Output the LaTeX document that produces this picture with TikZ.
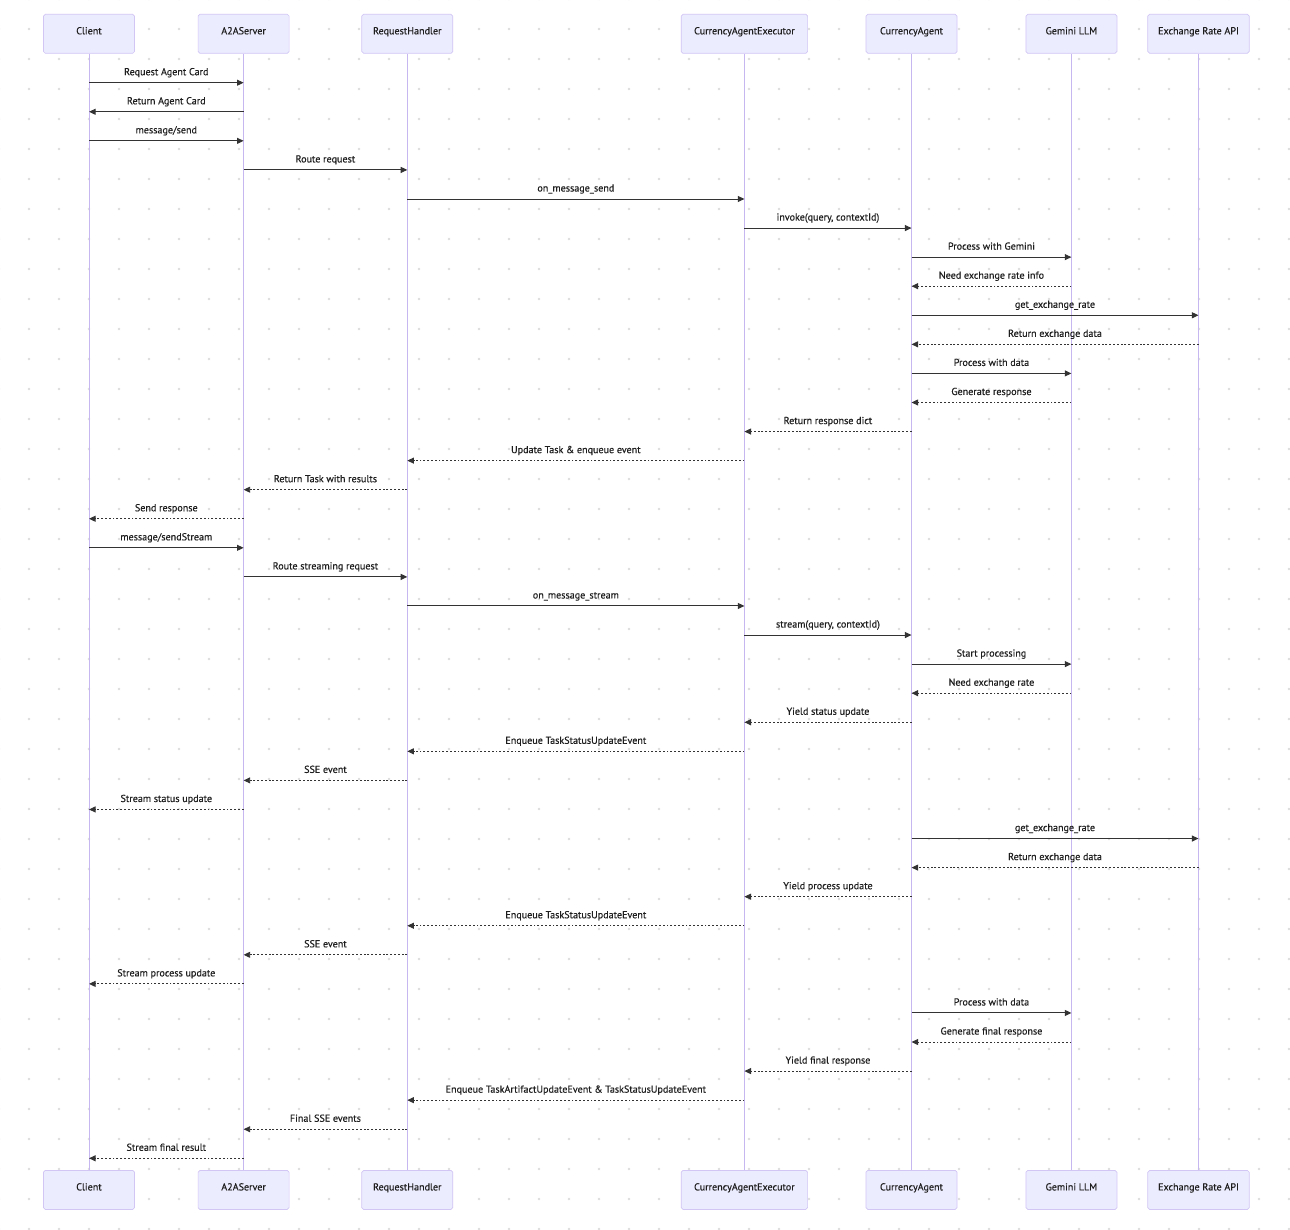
\documentclass[tikz,border=0pt]{standalone}
\usepackage{fontspec}
\setmainfont{PT Sans}[FakeBold=0.35]
\usetikzlibrary{arrows.meta}
\definecolor{actfill}{HTML}{ECECFF}
\definecolor{actborder}{HTML}{D2C6F4}
\definecolor{lifecol}{HTML}{C6B7F0}
\definecolor{msgcol}{HTML}{333333}
\definecolor{dotcol}{HTML}{DCDCDC}
\definecolor{txtcol}{HTML}{1E1E1E}
\newcommand\seqmsg[5]{%
  \pgfmathsetmacro\yy{82.7+(#3-1)*29.07}%
  \draw[#4] (#1.south |- 0,\yy) -- node[msglabel]{#5} (#2.south |- 0,\yy);}
\begin{document}
\begin{tikzpicture}[x=1pt,y=-1pt,
  actor/.style={draw=actborder, fill=actfill, line width=0.7pt, rounded corners=1.8pt,
    minimum height=39pt, inner sep=0pt, text height=7pt, text depth=6pt,
    font=\fontsize{10.1}{12}\selectfont, text=txtcol},
  lifeline/.style={draw=lifecol, line width=0.8pt},
  solidmsg/.style={draw=msgcol, line width=0.95pt, -{Triangle[length=6.6pt,width=6pt]}},
  dashmsg/.style={solidmsg, dash pattern=on 1.9pt off 1.9pt},
  msglabel/.style={midway, anchor=base, yshift=7.5pt, inner sep=0pt,
    font=\fontsize{10.1}{12}\selectfont, text=txtcol},
  griddot/.style={fill=dotcol, draw=none}]
\useasboundingbox (0,0) rectangle (1290,1229);
\fill[white] (0,0) rectangle (1290,1229);
% dot grid
\foreach \i in {-1,...,42}{
  \foreach \j in {-1,...,40}{
    \fill[griddot] ({29+30*\i},{29+30*\j}) circle (1.35pt);
  }
}
% participants top
\node[actor, minimum width=91pt]  (clT) at (89,33.8) {Client};
\node[actor, minimum width=91pt]  (svT) at (243.6,33.8) {A2AServer};
\node[actor, minimum width=91pt]  (rhT) at (407.3,33.8) {RequestHandler};
\node[actor, minimum width=126.4pt] (exT) at (744.4,33.8) {CurrencyAgentExecutor};
\node[actor, minimum width=91pt]  (caT) at (911.5,33.8) {CurrencyAgent};
\node[actor, minimum width=91pt]  (llT) at (1071.4,33.8) {Gemini LLM};
\node[actor, minimum width=101.4pt] (apT) at (1198.5,33.8) {Exchange Rate API};
% participants bottom
\node[actor, minimum width=91pt]  (clB) at (89,1189.9) {Client};
\node[actor, minimum width=91pt]  (svB) at (243.6,1189.9) {A2AServer};
\node[actor, minimum width=91pt]  (rhB) at (407.3,1189.9) {RequestHandler};
\node[actor, minimum width=126.4pt] (exB) at (744.4,1189.9) {CurrencyAgentExecutor};
\node[actor, minimum width=91pt]  (caB) at (911.5,1189.9) {CurrencyAgent};
\node[actor, minimum width=91pt]  (llB) at (1071.4,1189.9) {Gemini LLM};
\node[actor, minimum width=101.4pt] (apB) at (1198.5,1189.9) {Exchange Rate API};
% lifelines
\foreach \p in {cl,sv,rh,ex,ca,ll,ap}{
  \draw[lifeline] (\p T.south) -- (\p B.north);
}
% messages
\seqmsg{clT}{svT}{1}{solidmsg}{Request Agent Card}
\seqmsg{svT}{clT}{2}{solidmsg}{Return Agent Card}
\seqmsg{clT}{svT}{3}{solidmsg}{message/send}
\seqmsg{svT}{rhT}{4}{solidmsg}{Route request}
\seqmsg{rhT}{exT}{5}{solidmsg}{on\_message\_send}
\seqmsg{exT}{caT}{6}{solidmsg}{invoke(query, contextId)}
\seqmsg{caT}{llT}{7}{solidmsg}{Process with Gemini}
\seqmsg{llT}{caT}{8}{dashmsg}{Need exchange rate info}
\seqmsg{caT}{apT}{9}{solidmsg}{get\_exchange\_rate}
\seqmsg{apT}{caT}{10}{dashmsg}{Return exchange data}
\seqmsg{caT}{llT}{11}{solidmsg}{Process with data}
\seqmsg{llT}{caT}{12}{dashmsg}{Generate response}
\seqmsg{caT}{exT}{13}{dashmsg}{Return response dict}
\seqmsg{exT}{rhT}{14}{dashmsg}{Update Task \& enqueue event}
\seqmsg{rhT}{svT}{15}{dashmsg}{Return Task with results}
\seqmsg{svT}{clT}{16}{dashmsg}{Send response}
\seqmsg{clT}{svT}{17}{solidmsg}{message/sendStream}
\seqmsg{svT}{rhT}{18}{solidmsg}{Route streaming request}
\seqmsg{rhT}{exT}{19}{solidmsg}{on\_message\_stream}
\seqmsg{exT}{caT}{20}{solidmsg}{stream(query, contextId)}
\seqmsg{caT}{llT}{21}{solidmsg}{Start processing}
\seqmsg{llT}{caT}{22}{dashmsg}{Need exchange rate}
\seqmsg{caT}{exT}{23}{dashmsg}{Yield status update}
\seqmsg{exT}{rhT}{24}{dashmsg}{Enqueue TaskStatusUpdateEvent}
\seqmsg{rhT}{svT}{25}{dashmsg}{SSE event}
\seqmsg{svT}{clT}{26}{dashmsg}{Stream status update}
\seqmsg{caT}{apT}{27}{solidmsg}{get\_exchange\_rate}
\seqmsg{apT}{caT}{28}{dashmsg}{Return exchange data}
\seqmsg{caT}{exT}{29}{dashmsg}{Yield process update}
\seqmsg{exT}{rhT}{30}{dashmsg}{Enqueue TaskStatusUpdateEvent}
\seqmsg{rhT}{svT}{31}{dashmsg}{SSE event}
\seqmsg{svT}{clT}{32}{dashmsg}{Stream process update}
\seqmsg{caT}{llT}{33}{solidmsg}{Process with data}
\seqmsg{llT}{caT}{34}{dashmsg}{Generate final response}
\seqmsg{caT}{exT}{35}{dashmsg}{Yield final response}
\seqmsg{exT}{rhT}{36}{dashmsg}{Enqueue TaskArtifactUpdateEvent \& TaskStatusUpdateEvent}
\seqmsg{rhT}{svT}{37}{dashmsg}{Final SSE events}
\seqmsg{svT}{clT}{38}{dashmsg}{Stream final result}
\end{tikzpicture}
\end{document}
